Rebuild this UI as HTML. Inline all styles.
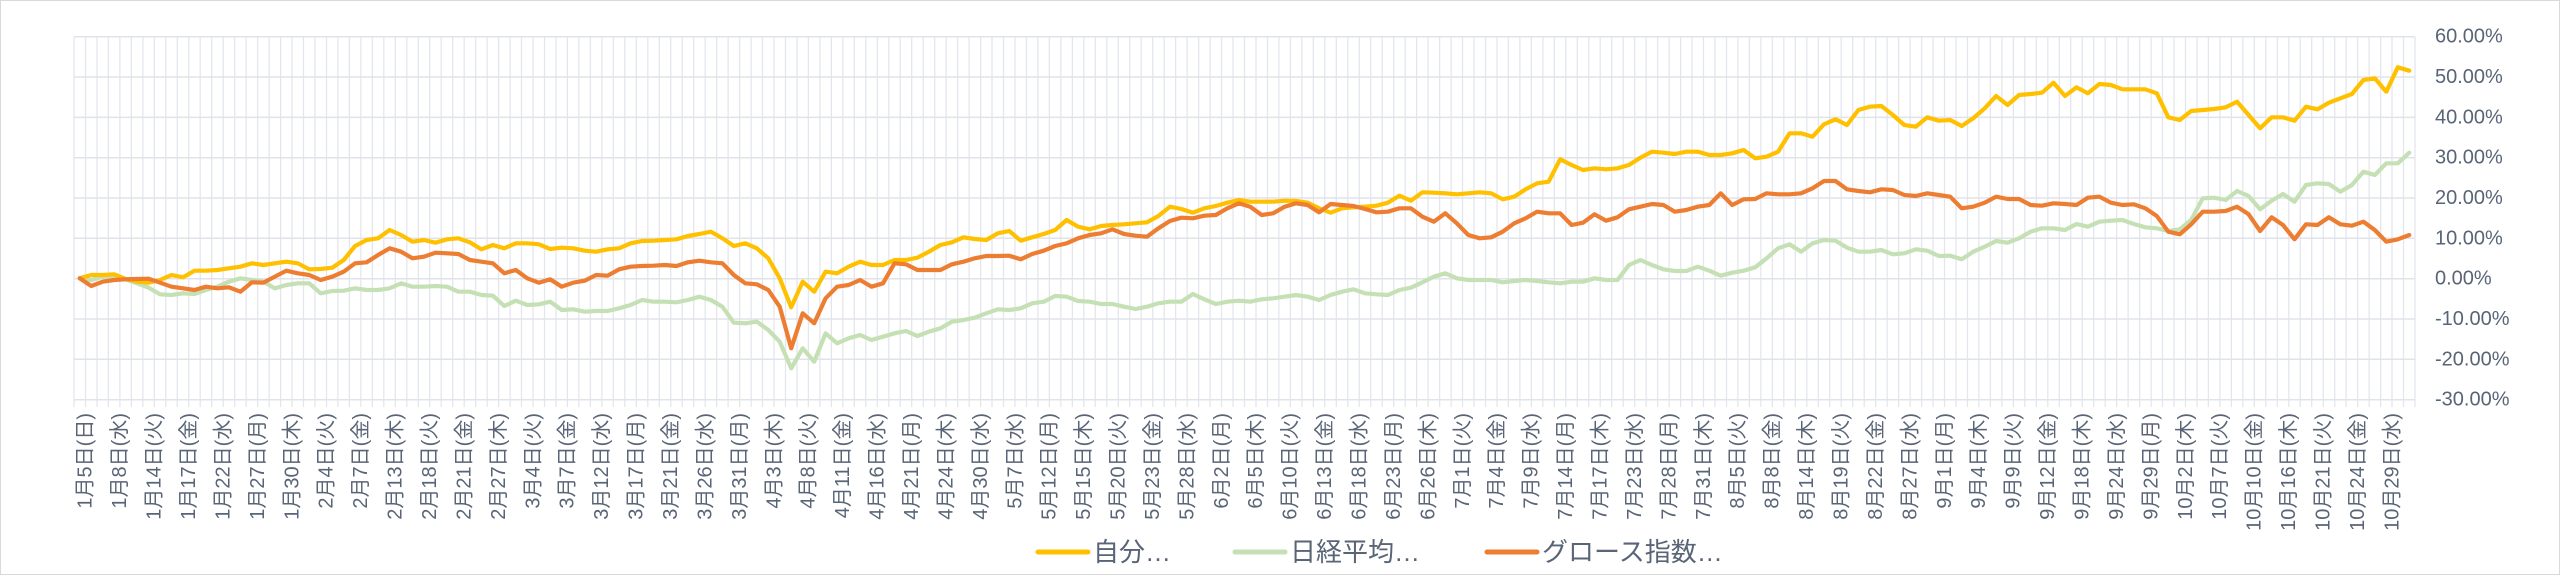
<!DOCTYPE html>
<html><head><meta charset="utf-8">
<style>
html,body{margin:0;padding:0;background:#fff;}
svg{display:block;}
text{font-family:"Liberation Sans","Noto Sans CJK JP",sans-serif;fill:#596577;}
</style></head>
<body>
<svg id="c" width="2560" height="576" xmlns="http://www.w3.org/2000/svg"></svg>
<script>
const Y=[745,735,735,733,747,755,758,750,735,742,722,722,720,715,710,700,705,700,695,700,718,717,713,690,648,630,625,600,615,635,630,638,628,625,637,
658,645,655,640,640,643,657,653,655,662,665,658,655,640,633,632,630,628,618,612,605,625,648,640,655,685,745,832,755,785,725,730,710,695,705,
705,690,690,683,665,645,637,622,627,630,610,603,632,622,612,600,570,590,598,588,585,583,580,577,558,530,537,548,535,528,518,510,515,515,
515,512,513,518,535,548,535,532,530,527,518,497,512,487,488,490,493,490,487,490,508,500,478,460,455,388,405,420,415,418,415,405,383,365,368,
372,365,365,375,375,370,360,385,380,365,310,310,320,283,268,285,240,230,228,255,285,290,262,272,270,288,265,235,198,225,195,192,188,158,
198,172,190,162,165,178,178,178,190,262,270,243,240,237,232,215,255,295,262,262,272,230,238,218,205,192,150,145,185,112,122];
const O=[745,768,755,750,748,747,746,758,770,775,780,770,775,772,785,757,758,740,722,730,735,750,740,725,700,697,675,655,665,685,680,668,670,672,690,
695,700,730,720,745,758,748,770,758,752,735,737,718,710,708,707,705,708,697,692,697,700,735,760,763,780,830,955,850,880,805,770,765,750,770,
760,700,703,720,720,720,703,695,685,678,678,677,688,672,662,648,640,625,615,610,598,612,617,620,595,573,563,565,557,555,535,520,530,555,
550,530,520,525,547,522,525,528,537,547,545,535,535,560,575,550,580,615,625,622,605,580,565,545,550,550,585,578,553,572,562,538,530,522,525,
545,540,530,525,490,525,508,507,490,493,493,490,475,453,453,478,483,487,478,480,495,498,490,495,500,535,530,518,500,507,507,525,527,520,
522,525,503,500,518,525,523,535,558,605,613,583,545,545,543,530,553,603,562,585,628,583,585,562,583,587,575,600,635,628,615];
const G=[745,750,740,742,748,760,773,793,795,790,792,780,770,755,745,750,755,775,765,760,760,790,783,782,775,780,780,775,760,770,770,768,770,785,785,
795,797,828,812,825,823,815,840,838,845,843,843,835,825,810,815,815,817,810,800,810,830,878,880,875,900,935,1015,955,995,910,940,925,915,930,
920,910,903,918,905,895,875,870,863,850,838,840,835,820,815,798,800,813,815,822,822,830,837,830,820,815,815,792,808,822,815,812,815,808,
805,800,795,800,810,795,785,778,790,793,795,780,773,757,740,730,745,750,750,750,757,753,750,753,757,760,755,755,745,750,750,705,690,705,718,
723,723,710,722,737,728,722,712,685,655,643,665,640,630,632,653,665,665,660,673,670,658,662,678,677,688,665,650,633,638,625,605,595,595,
600,582,590,575,572,570,582,592,595,603,598,570,505,503,510,483,498,538,512,492,515,465,460,462,485,465,425,435,400,400,368];
const labels=["1月5日(日)","1月8日(水)","1月14日(火)","1月17日(金)","1月22日(水)","1月27日(月)","1月30日(木)","2月4日(火)","2月7日(金)","2月13日(木)","2月18日(火)","2月21日(金)","2月27日(木)","3月4日(火)","3月7日(金)","3月12日(水)","3月17日(月)","3月21日(金)","3月26日(水)","3月31日(月)","4月3日(木)","4月8日(火)","4月11日(金)","4月16日(水)","4月21日(月)","4月24日(木)","4月30日(水)","5月7日(水)","5月12日(月)","5月15日(木)","5月20日(火)","5月23日(金)","5月28日(水)","6月2日(月)","6月5日(木)","6月10日(火)","6月13日(金)","6月18日(水)","6月23日(月)","6月26日(木)","7月1日(火)","7月4日(金)","7月9日(水)","7月14日(月)","7月17日(木)","7月23日(水)","7月28日(月)","7月31日(木)","8月5日(火)","8月8日(金)","8月14日(木)","8月19日(火)","8月22日(金)","8月27日(水)","9月1日(月)","9月4日(木)","9月9日(火)","9月12日(金)","9月18日(木)","9月24日(水)","9月29日(月)","10月2日(木)","10月7日(火)","10月10日(金)","10月16日(木)","10月21日(火)","10月24日(金)","10月29日(水)"];
const L=74,R=2415,N=204,W=(R-L)/N,T=36.7,S=40.33;
let s='<rect x="0.5" y="0.5" width="2559" height="574" fill="#fff" stroke="#d9d9d9"/>';
for(let j=0;j<=N;j++){const x=(L+j*W).toFixed(1);s+=`<line x1="${x}" y1="${T}" x2="${x}" y2="407" stroke="#e3e6ee" stroke-width="1.3"/>`;}
const pct=["60.00%","50.00%","40.00%","30.00%","20.00%","10.00%","0.00%","-10.00%","-20.00%","-30.00%"];
for(let k=0;k<10;k++){const y=(T+k*S).toFixed(1);s+=`<line x1="${L}" y1="${y}" x2="${R}" y2="${y}" stroke="#e0e3ea" stroke-width="1.5"/>`;
s+=`<text x="2435" y="${y}" font-size="20" dominant-baseline="central">${pct[k]}</text>`;}
function path(a,c){let d='';a.forEach((v,i)=>{d+=(i?'L':'M')+(L+(i+.5)*W).toFixed(1)+','+(v/3+30).toFixed(1);});
return `<path d="${d}" fill="none" stroke="${c}" stroke-width="4.2" stroke-linejoin="round" stroke-linecap="round"/>`;}
s+=path(G,'#C5E0B4')+path(Y,'#FFC000')+path(O,'#ED7D31');
labels.forEach((t,i)=>{const x=L+(i*3+.5)*W+6;s+=`<text transform="translate(${x.toFixed(1)},413) rotate(-90)" text-anchor="end" dominant-baseline="central" font-size="20">${t}</text>`;});
const lg=[[1038,'#FFC000','自分…'],[1235,'#C5E0B4','日経平均…'],[1487,'#ED7D31','グロース指数…']];
lg.forEach(([x,c,t])=>{s+=`<line x1="${x}" y1="552" x2="${x+50}" y2="552" stroke="${c}" stroke-width="5" stroke-linecap="round"/><text x="${x+55}" y="552" font-size="26" dominant-baseline="central">${t}</text>`;});
document.getElementById('c').innerHTML=s;
</script>
</body></html>
